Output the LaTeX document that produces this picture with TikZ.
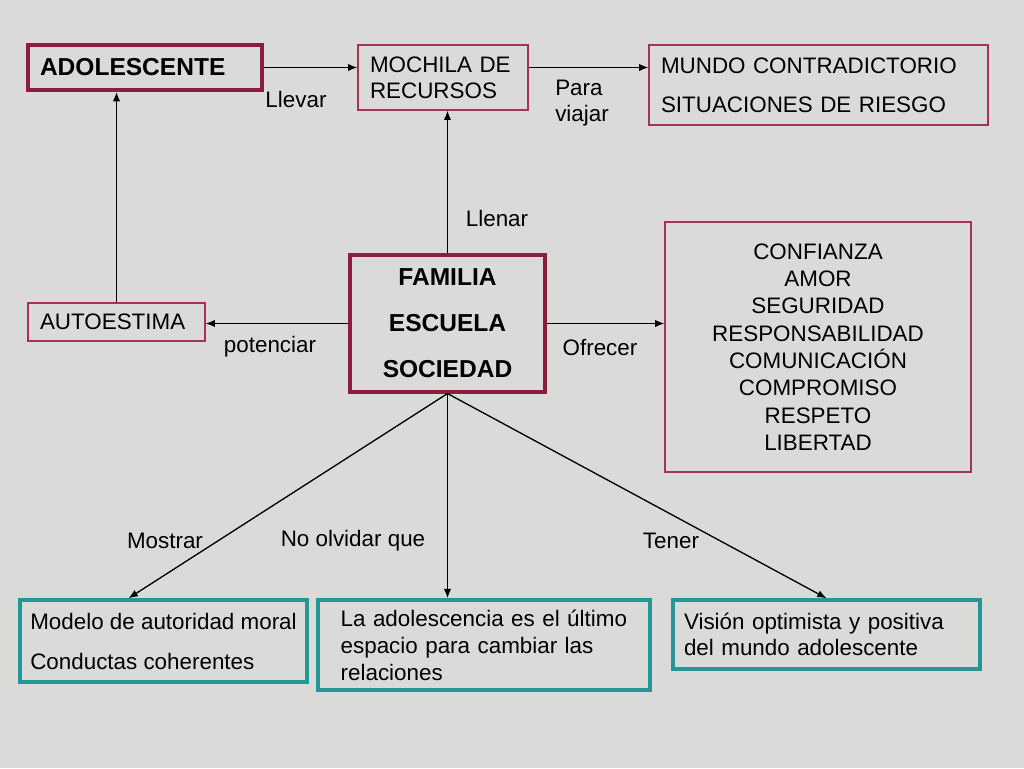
\documentclass[tikz,border=0pt]{standalone}
\usepackage{fontspec}
\setmainfont{Liberation Sans}
\usetikzlibrary{arrows.meta}
\definecolor{granito}{RGB}{218,218,216}
\definecolor{vino}{RGB}{142,28,66}
\definecolor{vinoclaro}{RGB}{165,50,88}
\definecolor{verdeazul}{RGB}{36,150,150}

\begin{document}
\begin{tikzpicture}[x=0.75pt,y=-0.75pt,
        caja/.style={draw=vinoclaro,line width=0.9pt,inner ysep=0pt,inner xsep=9pt,align=left},
        cajafuerte/.style={caja,draw=vino,line width=3pt},
        cajaverde/.style={caja,draw=verdeazul,line width=2.6pt},
        etiqueta/.style={inner sep=0pt,align=left},
        flecha/.style={-{Latex[length=7pt,width=5.5pt]},line width=1pt}]
        \fill[granito] (0,0) rectangle (1024,768);
        \useasboundingbox (0,0) rectangle (1024,768);
        % cajas
        \node[cajafuerte,minimum height=33.75pt,text width=157.5pt,font=\fontsize{18.4}{22}\selectfont\bfseries] (adol) at (145,67.5) {ADOLESCENTE};
        \node[caja,minimum height=48.75pt,text width=109.5pt,font=\fontsize{16.8}{19.5}\selectfont] (moch) at (443,77.5) {MOCHILA DE\\RECURSOS};
        \node[caja,minimum height=60pt,text width=236.25pt,font=\fontsize{16.8}{29.25}\selectfont] (mundo) at (818.5,85) {MUNDO CONTRADICTORIO\\SITUACIONES DE RIESGO};
        \node[cajafuerte,line width=2.3pt,minimum height=102.75pt,text width=128.25pt,align=center,font=\fontsize{18.4}{34.5}\selectfont\bfseries] (fam) at (447.5,323.5) {FAMILIA\\ESCUELA\\SOCIEDAD};
        \node[caja,minimum height=28.5pt,text width=114.75pt,font=\fontsize{16.8}{20}\selectfont] (auto) at (116.5,322) {AUTOESTIMA};
        \node[caja,minimum height=187.5pt,text width=211.5pt,align=center,font=\fontsize{16.8}{20.5}\selectfont] (conf) at (818,347) {CONFIANZA\\AMOR\\SEGURIDAD\\RESPONSABILIDAD\\COMUNICACIÓN\\COMPROMISO\\RESPETO\\LIBERTAD};
        \node[cajaverde,minimum height=61.5pt,minimum width=215.25pt,inner xsep=3pt,font=\fontsize{16.8}{30}\selectfont] (model) at (163.5,641) {Modelo de autoridad moral\\Conductas coherentes};
        \node[cajaverde,minimum height=67.5pt,inner xsep=17pt,text width=215pt,font=\fontsize{16.8}{20.25}\selectfont] (ultimo) at (484,645) {La adolescencia es el último\\espacio para cambiar las\\relaciones};
        \node[cajaverde,minimum height=51.75pt,inner xsep=8.25pt,text width=213.75pt,font=\fontsize{16.8}{19.5}\selectfont] (vision) at (826.5,634.5) {Visión optimista y positiva\\del mundo adolescente};
        % conectores
        \draw[flecha] (adol.east) -- (adol.east -| moch.west);
        \draw[flecha] (adol.east -| moch.east) -- (adol.east -| mundo.west);
        \draw[flecha] (fam.north) -- (fam.north |- moch.south);
        \draw[flecha] (auto.north) -- (auto.north |- adol.south);
        \draw[flecha] (fam.west) -- (fam.west -| auto.east);
        \draw[flecha] (fam.east) -- (fam.east -| conf.west);
        \draw[flecha] (fam.south) -- ([xshift=-26.25pt]model.north);
        \draw[flecha] (fam.south) -- (fam.south |- ultimo.north);
        \draw[flecha] (fam.south) -- (vision.north);
        % etiquetas
        \begin{scope}[font=\fontsize{16.8}{19.5}\selectfont]
        \node[etiqueta] (llevar) at (296,99) {Llevar};
        \node[etiqueta,anchor=west] (viajar) at (555,103) {Para\\viajar};
        \node[etiqueta] (llenar) at (497,218) {Llenar};
        \node[etiqueta] (potenciar) at (270,347) {potenciar};
        \node[etiqueta] (ofrecer) at (600,347) {Ofrecer};
        \node[etiqueta] (mostrar) at (165,541) {Mostrar};
        \node[etiqueta] (olvidar) at (353,541) {No olvidar que};
        \node[etiqueta] (tener) at (671,541) {Tener};
        \end{scope}
\end{tikzpicture}
\end{document}
